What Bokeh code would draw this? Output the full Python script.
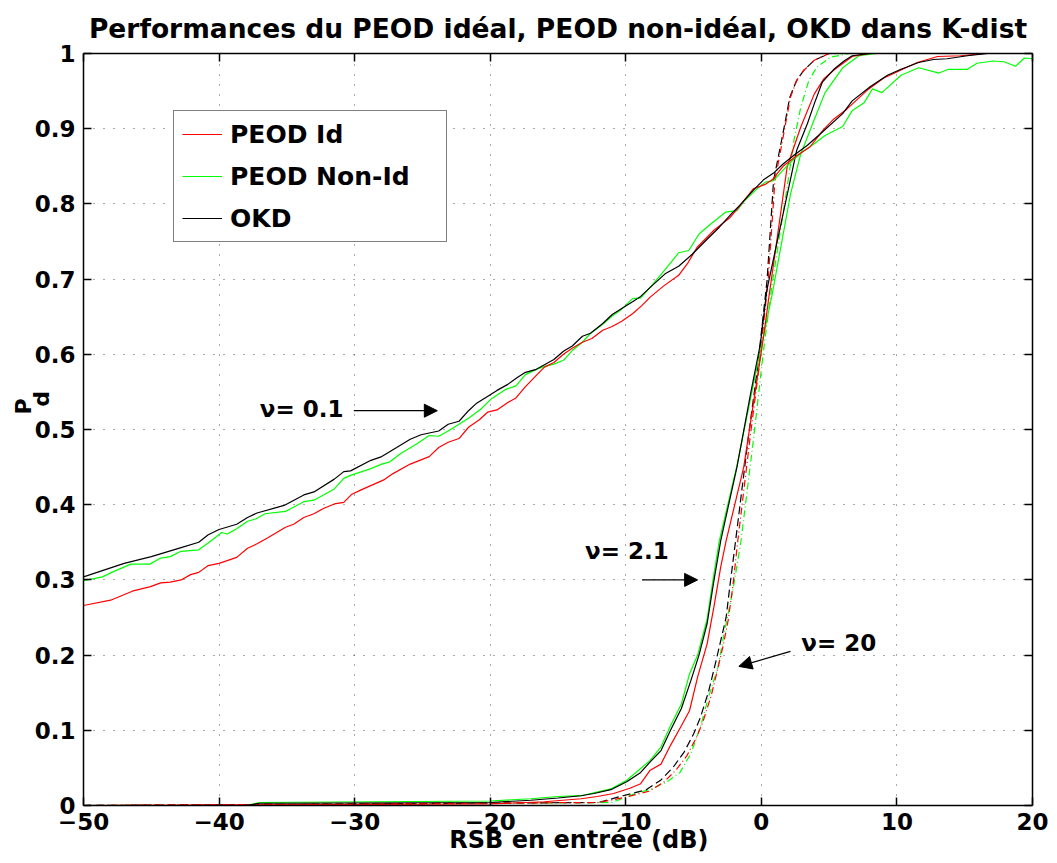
from bokeh.plotting import figure
from bokeh.models import (Range1d, FixedTicker, LinearAxis, Label, Arrow, NormalHead,
                          Legend, LegendItem, CustomJSTickFormatter, Title)
from bokeh.embed import file_html
from bokeh.resources import INLINE

# ---------------- data ----------------
x_ticks = [-50, -40, -30, -20, -10, 0, 10, 20]
y_ticks = [0.0, 0.1, 0.2, 0.3, 0.4, 0.5, 0.6, 0.7, 0.8, 0.9, 1.0]

# nu = 0.1
okd_01_x = [-50, -47, -45, -42.8, -41.5, -40.8, -40, -38.7, -37.9, -37.2, -35.2, -33.75, -33, -31.5, -30.8,
            -30.3, -28.8, -28, -26.9, -25.9, -25.1, -23.8, -23.1, -22.3, -21.6, -21, -20.2, -19.5, -18.7, -18,
            -17.4, -16.6, -16, -15.3, -14.6, -13.95, -13.2, -12.6, -11.7, -11, -10.3, -9.5, -8.9, -8.2, -7.1,
            -6.1, -5.1, -4, -3.1, -2.2, -1.6, -0.6, 0.16, 0.9, 1.6, 2.5, 3.4, 4.4, 6.0, 6.7, 8.05, 9.3, 10.3,
            11.6, 12.7, 13.7, 15.2, 16.7, 20]
okd_01_y = [0.304, 0.322, 0.331, 0.343, 0.350, 0.360, 0.367, 0.374, 0.383, 0.389, 0.399, 0.413, 0.417, 0.434,
            0.444, 0.445, 0.459, 0.464, 0.476, 0.487, 0.493, 0.498, 0.507, 0.511, 0.525, 0.535, 0.544, 0.552,
            0.560, 0.569, 0.576, 0.580, 0.586, 0.593, 0.604, 0.611, 0.624, 0.628, 0.641, 0.653, 0.661, 0.670,
            0.677, 0.689, 0.707, 0.717, 0.733, 0.753, 0.769, 0.787, 0.798, 0.818, 0.832, 0.841, 0.853, 0.866,
            0.878, 0.894, 0.920, 0.937, 0.956, 0.971, 0.979, 0.988, 0.992, 0.993, 0.997, 1.0, 1.0]

nid_01_x = [-50, -48.6, -47.8, -46.5, -45.1, -44.3, -43.6, -42.8, -41.5, -40.8, -39.8, -39.4, -38.7, -37.9,
            -37.3, -36.6, -35.1, -33.75, -33, -31.5, -30.8, -30.3, -28.8, -28, -27.4, -26.6, -25.4, -24.5,
            -23.8, -23.1, -22.3, -21.6, -20.7, -19.9, -18.9, -18.1, -17.4, -16.6, -16, -15.3, -14.6, -13.95,
            -13.2, -12.6, -11.7, -11, -10.3, -9.5, -8.9, -8.2, -6.95, -6.1, -5.35, -4.6, -3.75, -2.65, -1.8,
            -1.3, -0.44, 0.3, 0.9, 1.5, 2.3, 3.1, 3.9, 4.7, 6.0, 6.7, 7.6, 8.2, 8.9, 10.3, 11.6, 13.1, 13.8,
            15.2, 15.9, 17.1, 17.9, 18.75, 19.4, 20]
nid_01_y = [0.299, 0.304, 0.311, 0.321, 0.321, 0.329, 0.331, 0.338, 0.340, 0.349, 0.363, 0.361, 0.368, 0.378,
            0.381, 0.388, 0.391, 0.404, 0.406, 0.421, 0.435, 0.439, 0.448, 0.454, 0.457, 0.468, 0.481, 0.492,
            0.491, 0.498, 0.507, 0.515, 0.527, 0.541, 0.553, 0.558, 0.573, 0.580, 0.584, 0.587, 0.592, 0.605,
            0.616, 0.628, 0.640, 0.651, 0.660, 0.674, 0.675, 0.689, 0.716, 0.735, 0.738, 0.760, 0.773, 0.789,
            0.791, 0.803, 0.818, 0.829, 0.831, 0.843, 0.858, 0.870, 0.880, 0.891, 0.903, 0.924, 0.935, 0.953,
            0.948, 0.971, 0.981, 0.974, 0.979, 0.979, 0.987, 0.990, 0.989, 0.983, 0.994, 0.993]

id_01_x = [-50, -48, -46.4, -45.06, -44.3, -43.6, -42.8, -42.1, -41.5, -40.8, -40, -38.7, -37.9, -37.2, -36.4,
           -35.1, -34.5, -33.75, -33, -32.3, -31.5, -30.8, -30.2, -29.6, -27.85, -27.2, -25.9, -24.5, -23.8,
           -23.1, -22.3, -21.6, -20.8, -20.2, -19.5, -18.7, -18.1, -17.4, -16.6, -16, -15.3, -14.6, -13.95,
           -13.2, -12.5, -11.7, -11, -10.3, -9.5, -8.8, -8.2, -7.2, -6.1, -5.4, -4.75, -3.5, -2.3, -1.6, -0.6,
           0.3, 0.8, 1.6, 2.6, 3.6, 4.6, 5.35, 6.3, 7.8, 9.0, 10.3, 11.5, 13.0, 14.7, 16.5, 20]
id_01_y = [0.266, 0.273, 0.285, 0.291, 0.296, 0.297, 0.300, 0.307, 0.310, 0.319, 0.322, 0.330, 0.342, 0.348,
           0.356, 0.370, 0.374, 0.383, 0.388, 0.395, 0.401, 0.403, 0.414, 0.419, 0.433, 0.441, 0.454, 0.464,
           0.476, 0.483, 0.488, 0.503, 0.513, 0.523, 0.526, 0.536, 0.542, 0.557, 0.572, 0.583, 0.589, 0.600,
           0.608, 0.616, 0.621, 0.632, 0.637, 0.644, 0.654, 0.665, 0.676, 0.691, 0.705, 0.722, 0.742, 0.765,
           0.782, 0.797, 0.820, 0.826, 0.832, 0.850, 0.864, 0.876, 0.899, 0.913, 0.926, 0.951, 0.967, 0.978,
           0.988, 0.996, 0.997, 1.0, 1.0]

# nu = 2.1
okd_21_x = [-50, -38, -37, -20, -17, -15, -13.3, -12.35, -11.1, -9.9, -8.9, -8.2, -7.4, -6.7, -5.9, -5.2, -4.6,
            -4.0, -3.5, -3.0, -1.8, -0.8, -0.07, 0.4, 2.6, 3.4, 3.9, 4.5, 5.35, 6.1, 6.7, 8.0, 20]
okd_21_y = [0.0, 0.0, 0.003, 0.004, 0.007, 0.010, 0.013, 0.016, 0.021, 0.032, 0.044, 0.058, 0.073, 0.100,
            0.129, 0.166, 0.200, 0.242, 0.299, 0.352, 0.450, 0.547, 0.614, 0.685, 0.871, 0.907, 0.933, 0.962,
            0.979, 0.990, 0.997, 1.0, 1.0]

nid_21_x = [-50, -38, -37, -20, -17, -15, -13.3, -11.1, -9.9, -8.2, -7.4, -6.7, -5.9, -5.3, -4.7, -4.0, -3.5,
            -3.1, -1.8, -0.7, 0.8, 2.15, 2.9, 3.9, 4.7, 6.0, 7.2, 8.5, 20]
nid_21_y = [0.0, 0.0, 0.004, 0.006, 0.009, 0.012, 0.013, 0.022, 0.034, 0.060, 0.078, 0.106, 0.135, 0.175,
            0.200, 0.248, 0.308, 0.352, 0.452, 0.550, 0.680, 0.813, 0.866, 0.912, 0.948, 0.981, 0.997, 1.0, 1.0]

id_21_x = [-50, -20, -16, -13.3, -12.1, -10.9, -9.7, -8.9, -8.2, -7.4, -6.7, -5.9, -5.3, -4.7, -4.0, -3.5, -3.0,
           -2.6, -1.3, -0.44, 0.16, 0.54, 1.9, 2.9, 3.9, 4.6, 5.35, 6.1, 6.7, 8.0, 20]
id_21_y = [0.0, 0.002, 0.005, 0.009, 0.012, 0.016, 0.023, 0.029, 0.047, 0.055, 0.080, 0.106, 0.126, 0.171,
           0.215, 0.264, 0.317, 0.352, 0.450, 0.552, 0.623, 0.674, 0.849, 0.902, 0.946, 0.966, 0.978, 0.988,
           0.996, 1.0, 1.0]

# nu = 20
okd_20_x = [-50, -12, -10.2, -8.5, -7.4, -6.5, -5.7, -5.0, -4.5, -3.9, -3.4, -3.0, -2.6, -2.3, -1.9, -0.93,
            -0.31, 0.42, 0.9, 1.64, 2.1, 2.6, 3.1, 3.9, 5.0, 20]
okd_20_y = [0.0, 0.004, 0.013, 0.021, 0.034, 0.051, 0.071, 0.095, 0.117, 0.151, 0.188, 0.219, 0.250, 0.295,
            0.352, 0.494, 0.578, 0.698, 0.831, 0.898, 0.942, 0.964, 0.977, 0.991, 1.0, 1.0]

id_20_x = [-50, -12, -10.0, -8.3, -7.2, -6.3, -5.5, -4.8, -4.3, -3.7, -3.2, -2.8, -2.45, -2.1, -1.75, -0.8,
           -0.2, 0.5, 1.0, 1.7, 2.15, 2.6, 3.1, 3.9, 5.0, 20]
id_20_y = [0.0, 0.004, 0.011, 0.019, 0.031, 0.047, 0.066, 0.090, 0.112, 0.146, 0.183, 0.214, 0.246, 0.292,
           0.350, 0.494, 0.578, 0.698, 0.831, 0.898, 0.942, 0.964, 0.977, 0.991, 1.0, 1.0]

nid_20_x = [-50, -11, -9.3, -8.1, -7.0, -6.0, -5.2, -4.5, -3.9, -3.2, -2.7, -2.1, -1.5, -0.56, 0.16, 0.8, 1.9,
            2.4, 2.9, 3.5, 4.1, 5.1, 6.5, 20]
nid_20_y = [0.0, 0.004, 0.016, 0.022, 0.031, 0.044, 0.069, 0.104, 0.144, 0.184, 0.233, 0.286, 0.352, 0.490,
            0.605, 0.694, 0.822, 0.884, 0.928, 0.964, 0.982, 0.995, 1.0, 1.0]

legend_labels = ["PEOD Id", "PEOD Non-Id", "OKD"]
title_text = "Performances du PEOD idéal, PEOD non-idéal, OKD dans K-dist"
xlabel_text = "RSB en entrée (dB)"

# ---------------- figure ----------------
FONT = "DejaVu Sans"
RED, GREEN, BLACK = "#ff0000", "#00ff00", "#000000"
NB = "\u00a0"

p = figure(width=1050, height=860, output_backend="svg", toolbar_location=None,
           x_range=Range1d(-50, 20), y_range=Range1d(0, 1),
           min_border_left=83, min_border_right=18, min_border_top=53, min_border_bottom=55)
p.title = Title(text=title_text, align="center", text_font=FONT, text_font_style="bold",
                text_font_size="26.5px", text_color="black", standoff=19)
p.outline_line_color = None
p.background_fill_color = "white"
p.border_fill_color = "white"

xt = FixedTicker(ticks=x_ticks)
yt = FixedTicker(ticks=y_ticks)
p.xaxis.ticker = xt
p.yaxis.ticker = yt
p.xaxis.formatter = CustomJSTickFormatter(code="return tick < 0 ? '\u2212' + (-tick) : '' + tick;")
p.yaxis.formatter = CustomJSTickFormatter(code="return (Math.round(tick*10)/10).toString();")

for ax in (p.xaxis[0], p.yaxis[0]):
    ax.major_tick_in = 8
    ax.major_tick_out = 0
    ax.minor_tick_line_color = None
    ax.axis_line_width = 1.5
    ax.major_tick_line_width = 1.5
    ax.major_label_text_font = FONT
    ax.major_label_text_font_style = "bold"
    ax.major_label_text_font_size = "23px"
    ax.major_label_text_color = "black"
    ax.axis_label_text_font = FONT
    ax.axis_label_text_font_style = "bold"
    ax.axis_label_text_color = "black"

p.xaxis.major_label_standoff = 7
p.yaxis.major_label_standoff = 8

# x label (shifted slightly right as in the reference)
p.xaxis.axis_label = NB * 5 + xlabel_text
p.xaxis.axis_label_text_font_size = "24px"
p.xaxis.axis_label_standoff = -7

# y label: P with subscript d
p.yaxis.axis_label = NB * 6 + "P\n" + NB * 8 + "d"
p.yaxis.axis_label_text_font_size = "22px"
p.yaxis.axis_label_text_line_height = 0.7
p.yaxis.axis_label_standoff = -22

empty = CustomJSTickFormatter(code="return '';")
top_ax = LinearAxis(ticker=xt, formatter=empty, major_tick_in=8, major_tick_out=0,
                    minor_tick_line_color=None, axis_line_width=1.5, major_tick_line_width=1.5,
                    major_label_standoff=0, major_label_text_font_size="1px")
right_ax = LinearAxis(ticker=yt, formatter=empty, major_tick_in=8, major_tick_out=0,
                      minor_tick_line_color=None, axis_line_width=1.5, major_tick_line_width=1.5,
                      major_label_standoff=0, major_label_text_font_size="1px")
p.add_layout(top_ax, "above")
p.add_layout(right_ax, "right")

for g in (p.xgrid[0], p.ygrid[0]):
    g.grid_line_color = "#555555"
    g.grid_line_dash = "1 9"
    g.grid_line_width = 1

LW = 1.2
# nu = 20 (dashed / dash-dot)
p.line(nid_20_x, nid_20_y, line_color=GREEN, line_width=LW, line_dash="7 3 1 3")
p.line(okd_20_x, okd_20_y, line_color=BLACK, line_width=LW, line_dash="8 4")
p.line(id_20_x, id_20_y, line_color=RED, line_width=LW, line_dash="7 3 1 3")
# nu = 2.1 (solid)
p.line(nid_21_x, nid_21_y, line_color=GREEN, line_width=LW)
p.line(id_21_x, id_21_y, line_color=RED, line_width=LW)
p.line(okd_21_x, okd_21_y, line_color=BLACK, line_width=LW)
# nu = 0.1 (solid)
r_nid = p.line(nid_01_x, nid_01_y, line_color=GREEN, line_width=LW)
r_id = p.line(id_01_x, id_01_y, line_color=RED, line_width=LW)
r_okd = p.line(okd_01_x, okd_01_y, line_color=BLACK, line_width=LW)

legend = Legend(items=[LegendItem(label=legend_labels[0], renderers=[r_id]),
                       LegendItem(label=legend_labels[1], renderers=[r_nid]),
                       LegendItem(label=legend_labels[2], renderers=[r_okd])],
                location=(90, 563))
legend.label_text_font = FONT
legend.label_text_font_style = "bold"
legend.label_text_font_size = "25px"
legend.label_text_color = "black"
legend.glyph_width = 40
legend.glyph_height = 30
legend.label_height = 30
legend.label_width = 208
legend.label_standoff = 8
legend.spacing = 12
legend.padding = 8
legend.margin = 0
legend.border_line_color = "black"
legend.border_line_width = 1.5
legend.background_fill_color = "white"
legend.background_fill_alpha = 1.0
p.add_layout(legend)

# ---------------- annotations ----------------
def add_label(x, y, text, size):
    p.add_layout(Label(x=x, y=y, text=text, text_font=FONT, text_font_style="bold",
                       text_font_size=size, text_color="black", text_align="left",
                       text_baseline="alphabetic"))

add_label(-37.0, 0.527, "ν= 0.1", "23px")
add_label(-13.0, 0.338, "ν= 2.1", "23px")
add_label(2.95, 0.216, "ν= 20", "23px")

def add_arrow(x0, y0, x1, y1):
    p.add_layout(Arrow(end=NormalHead(size=13, fill_color="black", line_color="black", line_width=1),
                       x_start=x0, y_start=y0, x_end=x1, y_end=y1,
                       line_color="black", line_width=1.2))

add_arrow(-30.06, 0.525, -23.9, 0.525)
add_arrow(-8.8, 0.300, -4.7, 0.300)
add_arrow(2.15, 0.205, -1.66, 0.185)

open("out.html", "w").write(file_html(p, INLINE))
